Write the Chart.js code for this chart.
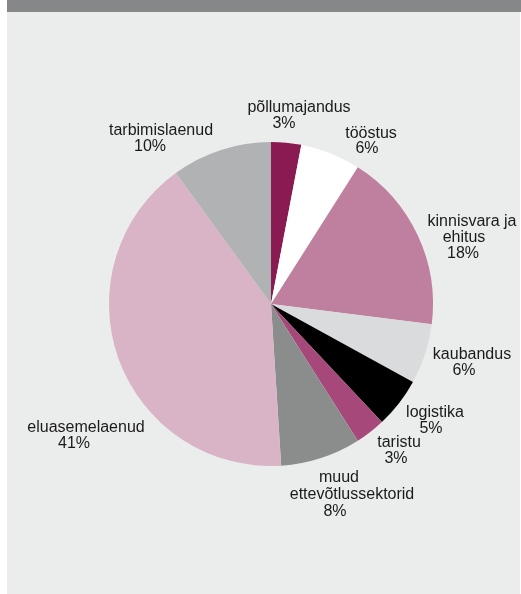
<!DOCTYPE html>
<html>
<head>
<meta charset="utf-8">
<script src="https://cdn.jsdelivr.net/npm/chart.js@4"></script>
<style>
body{margin:0;background:#fff;width:521px;height:594px;overflow:hidden;position:relative}
#bar{position:absolute;left:7px;top:0;width:514px;height:12px;background:#868789}
#panel{position:absolute;left:7px;top:12px;width:513px;height:582px;background:#ebedec}
</style>
</head>
<body>
<div id="bar"></div>
<div id="panel"><canvas id="pie" width="513" height="582"></canvas></div>
<script>
const labels = [
["põllumajandus"],
["tööstus"],
["kinnisvara ja","ehitus"],
["kaubandus"],
["logistika"],
["taristu"],
["muud","ettevõtlussektorid"],
["eluasemelaenud"],
["tarbimislaenud"]
];
const shares = [3,6,18,6,5,3,8,41,10];
const colors = ["#8a1b52","#ffffff","#bf809f","#dadbdc","#000000","#a6497a","#8b8c8c","#d9b3c6","#b1b2b4"];

// text line positions (center x, baseline y) relative to the pie centre, last line is the percentage
const labelLines = [
[[28,-192],[13,-176]],
[[100,-166],[96,-151]],
[[201,-78],[193,-62],[192,-46]],
[[201,55],[193,71]],
[[164,113],[160,129]],
[[128,143],[125,159]],
[[68,178],[81,195],[64,212]],
[[-185,128],[-197,144]],
[[-110,-169],[-121,-153]]
];

const labelPlugin = {
id:"sliceLabels",
afterDatasetsDraw(chart){
const ctx = chart.ctx;
const arc = chart.getDatasetMeta(0).data[0];
const cx = arc.x, cy = arc.y;
ctx.save();
ctx.font = "16px 'Liberation Sans', Arial, sans-serif";
ctx.fillStyle = "#1a1a1a";
ctx.textAlign = "center";
ctx.textBaseline = "alphabetic";
labels.forEach((lines,i)=>{
const all = lines.concat([shares[i] + "%"]);
all.forEach((t,j)=>{
const p = labelLines[i][j];
ctx.fillText(t, cx + p[0], cy + p[1]);
});
});
ctx.restore();
}
};

new Chart(document.getElementById("pie"),{
type:"pie",
data:{
labels:labels.map(l=>l.join(" ")),
datasets:[{
data:shares,
backgroundColor:colors,
borderWidth:0
}]
},
options:{
responsive:false,
animation:false,
layout:{padding:{left:102,right:87,top:130,bottom:128}},
plugins:{legend:{display:false},tooltip:{enabled:false}}
},
plugins:[labelPlugin]
});
</script>
</body>
</html>
